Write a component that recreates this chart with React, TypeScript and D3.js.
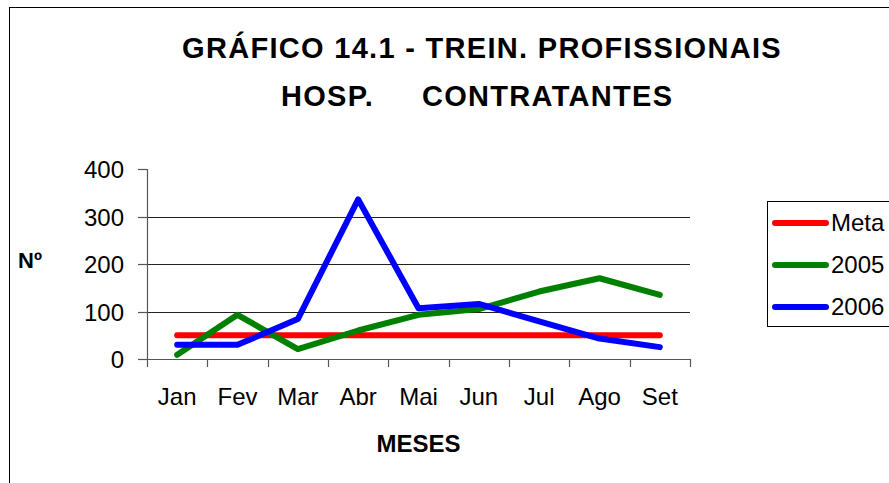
import React from "react";
import * as d3 from "d3";

const months = ["Jan", "Fev", "Mar", "Abr", "Mai", "Jun", "Jul", "Ago", "Set"];
const meta = [50, 50, 50, 50, 50, 50, 50, 50, 50];
const s2005 = [9, 93, 21, 60, 93, 105, 142, 170, 135];
const s2006 = [30, 30, 84, 336, 107, 116, 79, 43, 25];
const yTicks = [0, 100, 200, 300, 400];
const gridValues = [100, 200, 300];

const seriesList = [
  { name: "Meta", values: meta, color: "#FF0000" },
  { name: "2005", values: s2005, color: "#008000" },
  { name: "2006", values: s2006, color: "#0000FF" },
];

const FONT = "'Liberation Sans', Arial, Helvetica, sans-serif";

export default function App() {
  const left = 147, right = 690, top = 169, bottom = 359;
  const x = d3.scaleBand<string>().domain(months).range([left, right]).padding(0);
  const y = d3.scaleLinear().domain([0, 400]).range([bottom, top]);
  const cx = (m: string) => (x(m) as number) + x.bandwidth() / 2;
  const line = d3
    .line<number>()
    .x((_, i) => cx(months[i]))
    .y((v) => y(v));
  const boundaries = months.map((m) => x(m) as number).concat([right]);

  return (
    <svg
      width={889}
      height={483}
      style={{ position: "absolute", left: 0, top: 0, background: "#fff" }}
      fontFamily={FONT}
    >
      <rect x={0} y={0} width={889} height={483} fill="#fff" />
      <rect x={9.5} y={7.5} width={900} height={500} fill="none" stroke="#000" strokeWidth={1} />

      {/* title */}
      <text x={482} y={58} textAnchor="middle" fontSize={29} fontWeight="bold" letterSpacing={1.3}>
        GRÁFICO 14.1 - TREIN. PROFISSIONAIS
      </text>
      <text x={281} y={106} fontSize={29} fontWeight="bold" letterSpacing={1.3}>
        HOSP.
      </text>
      <text x={422} y={106} fontSize={29} fontWeight="bold" letterSpacing={1.3}>
        CONTRATANTES
      </text>

      {/* gridlines */}
      {gridValues.map((v) => (
        <line key={v} x1={left} x2={right} y1={Math.round(y(v)) + 0.5} y2={Math.round(y(v)) + 0.5} stroke="#222" strokeWidth={1} />
      ))}

      {/* axes */}
      <line x1={left + 0.5} x2={left + 0.5} y1={top} y2={bottom} stroke="#555" strokeWidth={1.2} />
      <line x1={left} x2={right} y1={bottom + 0.5} y2={bottom + 0.5} stroke="#555" strokeWidth={1.2} />
      {yTicks.map((v) => (
        <g key={v}>
          <line x1={left - 9} x2={left} y1={Math.round(y(v)) + 0.5} y2={Math.round(y(v)) + 0.5} stroke="#555" strokeWidth={1.2} />
          <text x={124} y={y(v) + 9} textAnchor="end" fontSize={24}>
            {v}
          </text>
        </g>
      ))}
      {boundaries.map((b, i) => (
        <line key={i} x1={Math.round(b) + 0.5} x2={Math.round(b) + 0.5} y1={bottom} y2={bottom + 8} stroke="#555" strokeWidth={1.2} />
      ))}
      {months.map((m) => (
        <text key={m} x={cx(m)} y={405} textAnchor="middle" fontSize={24}>
          {m}
        </text>
      ))}

      {/* axis titles */}
      <text x={18} y={268} fontSize={22} fontWeight="bold">
        Nº
      </text>
      <text x={(left + right) / 2} y={452} textAnchor="middle" fontSize={24} fontWeight="bold">
        MESES
      </text>

      {/* series */}
      {seriesList.map((s) => (
        <path
          key={s.name}
          d={line(s.values) || ""}
          fill="none"
          stroke={s.color}
          strokeWidth={6}
          strokeLinecap="round"
          strokeLinejoin="round"
        />
      ))}

      {/* legend */}
      <rect x={767.5} y={201.5} width={200} height={125} fill="#fff" stroke="#000" strokeWidth={1} />
      {seriesList.map((s, i) => {
        const ly = 223 + i * 42;
        return (
          <g key={s.name}>
            <line x1={775} x2={826} y1={ly} y2={ly} stroke={s.color} strokeWidth={6} strokeLinecap="round" />
            <text x={831} y={ly + 8} fontSize={24}>
              {s.name}
            </text>
          </g>
        );
      })}
    </svg>
  );
}
